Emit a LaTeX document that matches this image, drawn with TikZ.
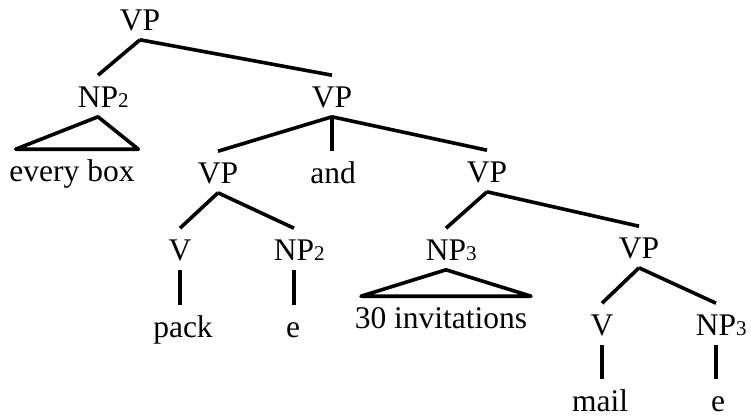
\documentclass[tikz,border=0pt]{standalone}
\usepackage{fontspec}
\setmainfont{Liberation Serif}
\newcommand{\npsub}[1]{NP\rlap{\fontsize{21}{25}\selectfont #1}}

\begin{document}
\begin{tikzpicture}[x=1pt, y=-1pt, line width=3.6pt,
    cat/.style={anchor=base, inner xsep=2pt, inner ysep=6pt,
      text height=24pt, text depth=2pt, font=\fontsize{31.5}{36}\selectfont},
    roof/.style={line join=round}]
  \useasboundingbox (0,0) rectangle (751,415);

  % Wurzel
  \node[cat] (vpA) at (140,30) {VP};

  % linker Ast: NP2 mit Dach
  \node[cat] (npA) at (98,107) {\npsub{2}};
  \node[cat] (boxA) at (72,181) {every box};
  \draw (vpA.south) -- (npA.north);
  \draw[roof] (npA.south) -- ([xshift=10pt]boxA.north west)
    -- (boxA.north east) -- cycle;

  % Koordination
  \node[cat] (vpB) at (332,107) {VP};
  \node[cat] (vpC) at (218,183) {VP};
  \node[cat] (andA) at (333,183) {and};
  \node[cat] (vpD) at (487,182) {VP};
  \draw (vpA.south) -- (vpB.north);
  \draw (vpB.south) -- (vpC.north);
  \draw (vpB.south) -- (vpB.south |- andA.north);
  \draw (vpB.south) -- (vpD.north);

  % pack e
  \node[cat] (vA) at (180,260) {V};
  \node[cat] (npB) at (294,260) {\npsub{2}};
  \node[cat] (packA) at (183,337) {pack};
  \node[cat] (eA) at (293,337) {e};
  \draw (vpC.south) -- (vA.north);
  \draw (vpC.south) -- (npB.north);
  \draw (vA.south) -- (vA.south |- packA.north);
  \draw (npB.south) -- (npB.south |- eA.north);

  % NP3 mit Dach
  \node[cat] (npC) at (446,260) {\npsub{3}};
  \node[cat] (invA) at (441,328) {30 invitations};
  \draw (vpD.south) -- (npC.north);
  \draw[roof] (npC.south) -- ([xshift=10pt]invA.north west)
    -- (invA.north east) -- cycle;

  % mail e
  \node[cat] (vpE) at (639,258) {VP};
  \node[cat] (vB) at (602,335) {V};
  \node[cat] (npD) at (716,335) {\npsub{3}};
  \node[cat] (mailA) at (600,411) {mail};
  \node[cat] (eB) at (718,411) {e};
  \draw (vpD.south) -- (vpE.north);
  \draw (vpE.south) -- (vB.north);
  \draw (vpE.south) -- (npD.north);
  \draw (vB.south) -- (vB.south |- mailA.north);
  \draw (npD.south) -- (npD.south |- eB.north);
\end{tikzpicture}
\end{document}
